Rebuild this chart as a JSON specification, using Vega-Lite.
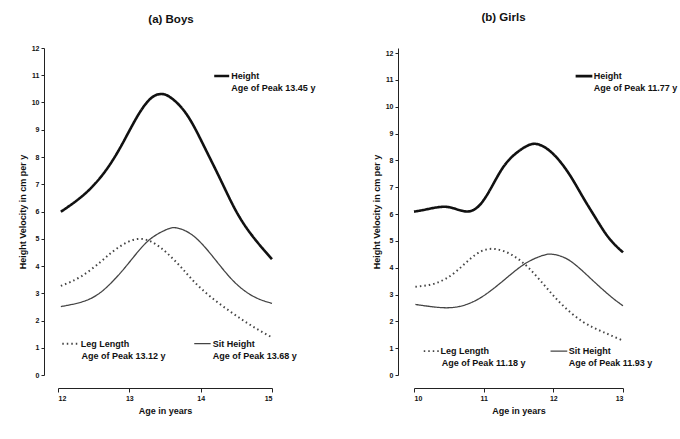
{
  "$schema": "https://vega.github.io/schema/vega-lite/v6.json",
  "background": "white",
  "padding": {"left": 18, "top": 11, "right": 2, "bottom": 2},
  "bounds": "flush",
  "spacing": 142,
  "config": {
    "font": "Liberation Sans",
    "view": {"stroke": null},
    "axis": {
      "grid": false,
      "domainColor": "#222",
      "tickColor": "#222",
      "labelColor": "#111",
      "titleColor": "#111",
      "labelFont": "Liberation Sans",
      "titleFont": "Liberation Sans",
      "labelFontSize": 7,
      "labelFontWeight": "bold",
      "labelOverlap": false,
      "labelBound": false,
      "titleFontSize": 9,
      "titleFontWeight": "bold"
    },
    "title": {"font": "Liberation Sans", "fontSize": 11.5, "fontWeight": "bold", "color": "#111"}
  },
  "datasets": {
    "curves": [
      {"panel": "boys", "series": "Height", "age": 12.04, "v": 5.99},
      {"panel": "boys", "series": "Height", "age": 12.36, "v": 6.61},
      {"panel": "boys", "series": "Height", "age": 12.64, "v": 7.40},
      {"panel": "boys", "series": "Height", "age": 12.88, "v": 8.38},
      {"panel": "boys", "series": "Height", "age": 13.11, "v": 9.48},
      {"panel": "boys", "series": "Height", "age": 13.30, "v": 10.15},
      {"panel": "boys", "series": "Height", "age": 13.44, "v": 10.31},
      {"panel": "boys", "series": "Height", "age": 13.58, "v": 10.18},
      {"panel": "boys", "series": "Height", "age": 13.81, "v": 9.54},
      {"panel": "boys", "series": "Height", "age": 14.05, "v": 8.38},
      {"panel": "boys", "series": "Height", "age": 14.28, "v": 7.16},
      {"panel": "boys", "series": "Height", "age": 14.51, "v": 5.95},
      {"panel": "boys", "series": "Height", "age": 14.75, "v": 5.02},
      {"panel": "boys", "series": "Height", "age": 15.0, "v": 4.25},
      {"panel": "boys", "series": "Leg Length", "age": 12.04, "v": 3.27},
      {"panel": "boys", "series": "Leg Length", "age": 12.32, "v": 3.61},
      {"panel": "boys", "series": "Leg Length", "age": 12.60, "v": 4.16},
      {"panel": "boys", "series": "Leg Length", "age": 12.83, "v": 4.65},
      {"panel": "boys", "series": "Leg Length", "age": 13.11, "v": 4.99},
      {"panel": "boys", "series": "Leg Length", "age": 13.35, "v": 4.83},
      {"panel": "boys", "series": "Leg Length", "age": 13.53, "v": 4.47},
      {"panel": "boys", "series": "Leg Length", "age": 13.72, "v": 3.97},
      {"panel": "boys", "series": "Leg Length", "age": 13.91, "v": 3.42},
      {"panel": "boys", "series": "Leg Length", "age": 14.14, "v": 2.87},
      {"panel": "boys", "series": "Leg Length", "age": 14.42, "v": 2.32},
      {"panel": "boys", "series": "Leg Length", "age": 14.70, "v": 1.83},
      {"panel": "boys", "series": "Leg Length", "age": 15.0, "v": 1.38},
      {"panel": "boys", "series": "Sit Height", "age": 12.04, "v": 2.51},
      {"panel": "boys", "series": "Sit Height", "age": 12.41, "v": 2.75},
      {"panel": "boys", "series": "Sit Height", "age": 12.69, "v": 3.24},
      {"panel": "boys", "series": "Sit Height", "age": 12.97, "v": 4.04},
      {"panel": "boys", "series": "Sit Height", "age": 13.25, "v": 4.89},
      {"panel": "boys", "series": "Sit Height", "age": 13.49, "v": 5.30},
      {"panel": "boys", "series": "Sit Height", "age": 13.66, "v": 5.40},
      {"panel": "boys", "series": "Sit Height", "age": 13.91, "v": 5.08},
      {"panel": "boys", "series": "Sit Height", "age": 14.19, "v": 4.28},
      {"panel": "boys", "series": "Sit Height", "age": 14.47, "v": 3.42},
      {"panel": "boys", "series": "Sit Height", "age": 14.75, "v": 2.87},
      {"panel": "boys", "series": "Sit Height", "age": 15.0, "v": 2.63},
      {"panel": "girls", "series": "Height", "age": 10.0, "v": 6.09},
      {"panel": "girls", "series": "Height", "age": 10.17, "v": 6.17},
      {"panel": "girls", "series": "Height", "age": 10.41, "v": 6.27},
      {"panel": "girls", "series": "Height", "age": 10.60, "v": 6.19},
      {"panel": "girls", "series": "Height", "age": 10.79, "v": 6.10},
      {"panel": "girls", "series": "Height", "age": 10.98, "v": 6.45},
      {"panel": "girls", "series": "Height", "age": 11.17, "v": 7.27},
      {"panel": "girls", "series": "Height", "age": 11.36, "v": 8.01},
      {"panel": "girls", "series": "Height", "age": 11.60, "v": 8.51},
      {"panel": "girls", "series": "Height", "age": 11.78, "v": 8.60},
      {"panel": "girls", "series": "Height", "age": 11.99, "v": 8.26},
      {"panel": "girls", "series": "Height", "age": 12.22, "v": 7.52},
      {"panel": "girls", "series": "Height", "age": 12.42, "v": 6.65},
      {"panel": "girls", "series": "Height", "age": 12.61, "v": 5.84},
      {"panel": "girls", "series": "Height", "age": 12.80, "v": 5.10},
      {"panel": "girls", "series": "Height", "age": 13.0, "v": 4.57},
      {"panel": "girls", "series": "Leg Length", "age": 10.02, "v": 3.29},
      {"panel": "girls", "series": "Leg Length", "age": 10.31, "v": 3.42},
      {"panel": "girls", "series": "Leg Length", "age": 10.60, "v": 3.85},
      {"panel": "girls", "series": "Leg Length", "age": 10.89, "v": 4.50},
      {"panel": "girls", "series": "Leg Length", "age": 11.15, "v": 4.70},
      {"panel": "girls", "series": "Leg Length", "age": 11.41, "v": 4.47},
      {"panel": "girls", "series": "Leg Length", "age": 11.65, "v": 3.98},
      {"panel": "girls", "series": "Leg Length", "age": 11.89, "v": 3.29},
      {"panel": "girls", "series": "Leg Length", "age": 12.13, "v": 2.61},
      {"panel": "girls", "series": "Leg Length", "age": 12.42, "v": 1.99},
      {"panel": "girls", "series": "Leg Length", "age": 12.70, "v": 1.62},
      {"panel": "girls", "series": "Leg Length", "age": 13.0, "v": 1.28},
      {"panel": "girls", "series": "Sit Height", "age": 10.02, "v": 2.63},
      {"panel": "girls", "series": "Sit Height", "age": 10.41, "v": 2.51},
      {"panel": "girls", "series": "Sit Height", "age": 10.69, "v": 2.58},
      {"panel": "girls", "series": "Sit Height", "age": 10.98, "v": 2.92},
      {"panel": "girls", "series": "Sit Height", "age": 11.32, "v": 3.60},
      {"panel": "girls", "series": "Sit Height", "age": 11.60, "v": 4.16},
      {"panel": "girls", "series": "Sit Height", "age": 11.84, "v": 4.45},
      {"panel": "girls", "series": "Sit Height", "age": 11.99, "v": 4.50},
      {"panel": "girls", "series": "Sit Height", "age": 12.22, "v": 4.29},
      {"panel": "girls", "series": "Sit Height", "age": 12.51, "v": 3.66},
      {"panel": "girls", "series": "Sit Height", "age": 12.80, "v": 2.98},
      {"panel": "girls", "series": "Sit Height", "age": 13.0, "v": 2.58}
    ],
    "keys": [
      {"panel": "boys", "series": "Height", "x": 14.19, "x2": 14.40, "y": 10.97},
      {"panel": "boys", "series": "Leg Length", "x": 12.06, "x2": 12.29, "y": 1.15},
      {"panel": "boys", "series": "Sit Height", "x": 13.91, "x2": 14.14, "y": 1.15},
      {"panel": "girls", "series": "Height", "x": 12.32, "x2": 12.56, "y": 11.14},
      {"panel": "girls", "series": "Leg Length", "x": 10.14, "x2": 10.36, "y": 0.89},
      {"panel": "girls", "series": "Sit Height", "x": 11.96, "x2": 12.20, "y": 0.89}
    ],
    "notes": [
      {"panel": "boys", "x": 14.43, "y": 10.97, "text": "Height"},
      {"panel": "boys", "x": 14.43, "y": 10.53, "text": "Age of Peak 13.45 y"},
      {"panel": "boys", "x": 12.32, "y": 1.15, "text": "Leg Length"},
      {"panel": "boys", "x": 12.33, "y": 0.70, "text": "Age of Peak 13.12 y"},
      {"panel": "boys", "x": 14.17, "y": 1.15, "text": "Sit Height"},
      {"panel": "boys", "x": 14.17, "y": 0.70, "text": "Age of Peak 13.68 y"},
      {"panel": "girls", "x": 12.58, "y": 11.14, "text": "Height"},
      {"panel": "girls", "x": 12.58, "y": 10.70, "text": "Age of Peak 11.77 y"},
      {"panel": "girls", "x": 10.38, "y": 0.89, "text": "Leg Length"},
      {"panel": "girls", "x": 10.40, "y": 0.44, "text": "Age of Peak 11.18 y"},
      {"panel": "girls", "x": 12.22, "y": 0.89, "text": "Sit Height"},
      {"panel": "girls", "x": 12.22, "y": 0.44, "text": "Age of Peak 11.93 y"}
    ]
  },
  "hconcat": [
    {
      "width": 214,
      "height": 327,
      "title": {"text": "(a) Boys", "offset": 19, "dx": 6},
      "layer": [
        {
          "data": {"name": "curves"},
          "transform": [{"filter": "datum.panel === 'boys'"}],
          "mark": {"type": "line", "interpolate": "natural"},
          "encoding": {
            "x": {"field": "age", "type": "quantitative", "scale": {"domain": [12, 15], "nice": false, "zero": false},
                  "axis": {"title": "Age in years", "values": [12, 13, 14, 15], "format": "d", "labelOverlap": false, "offset": 13, "tickSize": 4, "labelPadding": 2, "titlePadding": 5}},
            "y": {"field": "v", "type": "quantitative", "scale": {"domain": [0, 12], "nice": false},
                  "axis": {"title": "Height Velocity in cm per y", "values": [0,1,2,3,4,5,6,7,8,9,10,11,12], "tickCount": 13, "format": "d", "labelOverlap": false, "offset": 14, "tickSize": 3, "labelPadding": 2, "titlePadding": 4}},
            "detail": {"field": "series"},
            "color": {"field": "series", "scale": {"domain": ["Height", "Leg Length", "Sit Height"], "range": ["#111111", "#444444", "#444444"]}, "legend": null},
            "strokeWidth": {"field": "series", "scale": {"domain": ["Height", "Leg Length", "Sit Height"], "range": [2.6, 1.3, 1.3]}, "legend": null},
            "strokeDash": {"field": "series", "scale": {"domain": ["Height", "Leg Length", "Sit Height"], "range": [[1, 0], [1.5, 3], [1, 0]]}, "legend": null}
          }
        },
        {
          "data": {"name": "keys"},
          "transform": [{"filter": "datum.panel === 'boys'"}],
          "mark": {"type": "rule"},
          "encoding": {
            "x": {"field": "x", "type": "quantitative"},
            "x2": {"field": "x2"},
            "y": {"field": "y", "type": "quantitative"},
            "color": {"field": "series", "scale": {"domain": ["Height", "Leg Length", "Sit Height"], "range": ["#111111", "#444444", "#444444"]}, "legend": null},
            "strokeWidth": {"field": "series", "scale": {"domain": ["Height", "Leg Length", "Sit Height"], "range": [2.6, 1.3, 1.3]}, "legend": null},
            "strokeDash": {"field": "series", "scale": {"domain": ["Height", "Leg Length", "Sit Height"], "range": [[1, 0], [1.5, 3], [1, 0]]}, "legend": null}
          }
        },
        {
          "data": {"name": "notes"},
          "transform": [{"filter": "datum.panel === 'boys'"}],
          "mark": {"type": "text", "align": "left", "baseline": "middle", "fontSize": 9, "fontWeight": "bold", "color": "#111"},
          "encoding": {
            "x": {"field": "x", "type": "quantitative"},
            "y": {"field": "y", "type": "quantitative"},
            "text": {"field": "text"}
          }
        }
      ]
    },
    {
      "width": 209,
      "height": 327,
      "title": {"text": "(b) Girls", "offset": 25, "dx": -15},
      "layer": [
        {
          "data": {"name": "curves"},
          "transform": [{"filter": "datum.panel === 'girls'"}],
          "mark": {"type": "line", "interpolate": "natural"},
          "encoding": {
            "x": {"field": "age", "type": "quantitative", "scale": {"domain": [10, 13], "nice": false, "zero": false},
                  "axis": {"title": "Age in years", "values": [10, 11, 12, 13], "format": "d", "labelOverlap": false, "offset": 13, "tickSize": 4, "labelPadding": 2, "titlePadding": 5}},
            "y": {"field": "v", "type": "quantitative", "scale": {"domain": [0, 12.19], "nice": false},
                  "axis": {"title": "Height Velocity in cm per y", "values": [0,1,2,3,4,5,6,7,8,9,10,11,12], "tickCount": 13, "format": "d", "labelOverlap": false, "offset": 16, "tickSize": 3, "labelPadding": 2, "titlePadding": 4}},
            "detail": {"field": "series"},
            "color": {"field": "series", "scale": {"domain": ["Height", "Leg Length", "Sit Height"], "range": ["#111111", "#444444", "#444444"]}, "legend": null},
            "strokeWidth": {"field": "series", "scale": {"domain": ["Height", "Leg Length", "Sit Height"], "range": [2.6, 1.3, 1.3]}, "legend": null},
            "strokeDash": {"field": "series", "scale": {"domain": ["Height", "Leg Length", "Sit Height"], "range": [[1, 0], [1.5, 3], [1, 0]]}, "legend": null}
          }
        },
        {
          "data": {"name": "keys"},
          "transform": [{"filter": "datum.panel === 'girls'"}],
          "mark": {"type": "rule"},
          "encoding": {
            "x": {"field": "x", "type": "quantitative"},
            "x2": {"field": "x2"},
            "y": {"field": "y", "type": "quantitative"},
            "color": {"field": "series", "scale": {"domain": ["Height", "Leg Length", "Sit Height"], "range": ["#111111", "#444444", "#444444"]}, "legend": null},
            "strokeWidth": {"field": "series", "scale": {"domain": ["Height", "Leg Length", "Sit Height"], "range": [2.6, 1.3, 1.3]}, "legend": null},
            "strokeDash": {"field": "series", "scale": {"domain": ["Height", "Leg Length", "Sit Height"], "range": [[1, 0], [1.5, 3], [1, 0]]}, "legend": null}
          }
        },
        {
          "data": {"name": "notes"},
          "transform": [{"filter": "datum.panel === 'girls'"}],
          "mark": {"type": "text", "align": "left", "baseline": "middle", "fontSize": 9, "fontWeight": "bold", "color": "#111"},
          "encoding": {
            "x": {"field": "x", "type": "quantitative"},
            "y": {"field": "y", "type": "quantitative"},
            "text": {"field": "text"}
          }
        }
      ]
    }
  ]
}
